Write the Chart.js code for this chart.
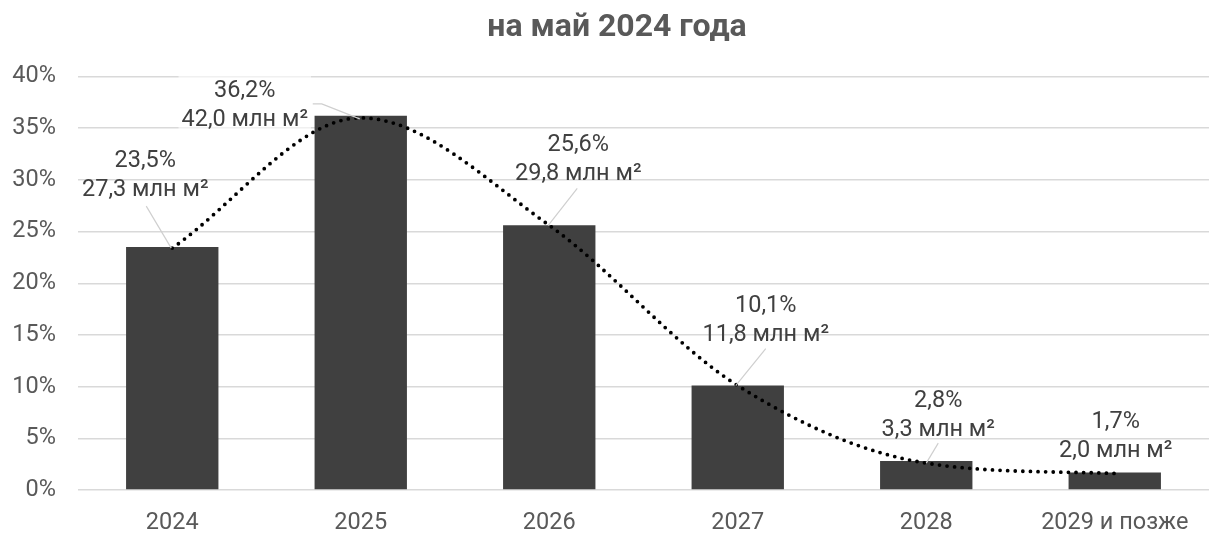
<!DOCTYPE html>
<html>
<head>
<meta charset="utf-8">
<script src="https://cdn.jsdelivr.net/npm/chart.js@4.4.1/dist/chart.umd.min.js"></script>
<style>
  html, body { margin: 0; padding: 0; background: #fff; }
  #wrap { width: 1211px; height: 534px; position: relative; }
</style>
</head>
<body>
<div id="wrap"><canvas id="chart"></canvas></div>
<script>
/* DATA */
const categories = ["2024", "2025", "2026", "2027", "2028", "2029 и позже"];
const shares = [23.5, 36.2, 25.6, 10.1, 2.8, 1.7];          // % of total
const areas = [27.3, 42.0, 29.8, 11.8, 3.3, 2.0];           // млн м²
const trend = [23.4, 36.0, 25.6, 10.1, 2.6, 1.6];           // dotted trendline
const yTicks = [0, 5, 10, 15, 20, 25, 30, 35, 40];
const titleText = "на май 2024 года";

/* LABEL PLACEMENT (px, relative to top centre of each bar) */
const labelOffsets = [[-27, -72], [-116, -12], [29, -66], [28, -65], [12, -47], [1, -37]];
const leaders = [
  [[-26, -42], [-1, 0]],
  [[-48, -14], [-39, -14], [-1, 1]],
  [[28, -37], [-1, 0]],
  [[28, -37], [-2, 0]],
  [[12, -20], [0, 0]],
  null
];
const labelBoxes = [false, true, false, false, false, false];

const FONT = "Roboto, 'Noto Sans', sans-serif";
const fmt = v => v.toFixed(1).replace(".", ",");

/* TITLE (sits a little right of canvas centre, as in the original) */
const titlePlugin = {
  id: "titlePlugin",
  afterDraw(chart){
    const ctx = chart.ctx;
    ctx.save();
    ctx.font = "bold 32px " + FONT;
    ctx.fillStyle = "#595959";
    ctx.textAlign = "center";
    ctx.textBaseline = "middle";
    ctx.fillText(titleText, 617, 28);
    ctx.restore();
  }
};

/* DATA LABELS + LEADER LINES */
const barLabels = {
  id: "barLabels",
  afterDatasetsDraw(chart){
    const ctx = chart.ctx;
    const meta = chart.getDatasetMeta(0);
    ctx.save();
    ctx.font = "23.5px " + FONT;
    ctx.textAlign = "center";
    ctx.textBaseline = "middle";
    meta.data.forEach((bar, i) => {
      const x0 = bar.x, y0 = bar.y;
      const cx = x0 + labelOffsets[i][0];
      const cy = y0 + labelOffsets[i][1];
      const l1 = fmt(shares[i]) + "%";
      const l2 = fmt(areas[i]) + " млн м²";
      if(labelBoxes[i]){
        const w = Math.max(ctx.measureText(l1).width, ctx.measureText(l2).width) + 6;
        ctx.fillStyle = "rgba(255,255,255,0.6)";
        ctx.fillRect(cx - w/2, cy - 30, w, 58);
      }
      if(leaders[i]){
        ctx.strokeStyle = "#cfcfcf";
        ctx.lineWidth = 1.2;
        ctx.beginPath();
        leaders[i].forEach((p, k) => {
          if(k === 0) ctx.moveTo(x0 + p[0], y0 + p[1]);
          else ctx.lineTo(x0 + p[0], y0 + p[1]);
        });
        ctx.stroke();
      }
      ctx.fillStyle = "#404040";
      ctx.fillText(l1, cx, cy - 14.5);
      ctx.fillText(l2, cx, cy + 14.5);
    });
    ctx.restore();
  }
};

new Chart(document.getElementById("chart"), {
  data: {
    labels: categories,
    datasets: [
      {
        type: "line",
        data: trend,
        borderColor: "#000",
        borderWidth: 3.8,
        borderDash: [0, 7.6],
        borderCapStyle: "round",
        pointRadius: 0,
        cubicInterpolationMode: "monotone",
        fill: false,
        order: 0
      },
      {
        type: "bar",
        data: shares,
        backgroundColor: "#404040",
        barPercentage: 0.49,
        categoryPercentage: 1,
        order: 1
      }
    ]
  },
  options: {
    responsive: true,
    maintainAspectRatio: false,
    animation: false,
    layout: { padding: { left: 0, right: 2, top: 76.5, bottom: 0 } },
    plugins: {
      legend: { display: false },
      tooltip: { enabled: false },
      title: { display: false }
    },
    scales: {
      x: {
        afterFit: axis => { axis.height = 44; },
        grid: { display: false, drawTicks: false },
        border: { display: false },
        ticks: { color: "#595959", font: { family: FONT, size: 23.5 }, padding: 19, autoSkip: false, maxRotation: 0 }
      },
      y: {
        min: 0,
        max: 40,
        afterBuildTicks: axis => { axis.ticks = yTicks.map(v => ({ value: v })); },
        afterFit: axis => { axis.width = 78; },
        grid: { color: "#d9d9d9", lineWidth: 1.5, drawTicks: false },
        border: { display: false },
        ticks: { color: "#595959", font: { family: FONT, size: 23.5 }, padding: 22, callback: v => v + "%" }
      }
    }
  },
  plugins: [barLabels, titlePlugin]
});
</script>
</body>
</html>
